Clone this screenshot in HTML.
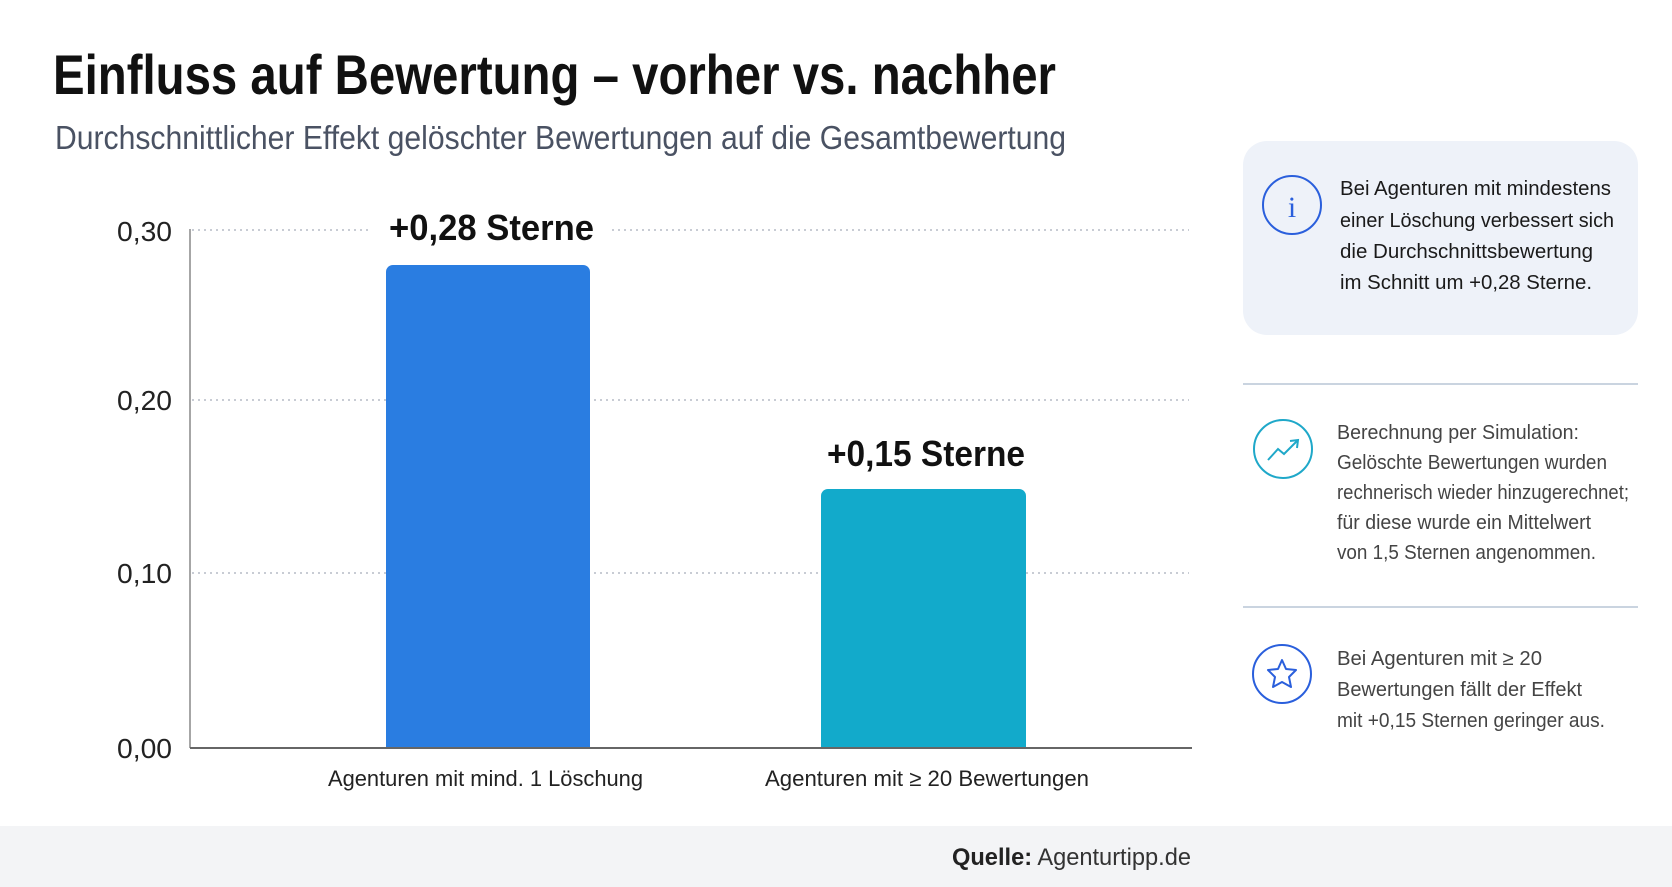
<!DOCTYPE html>
<html><head><meta charset="utf-8"><style>
html,body{margin:0;padding:0;background:#fff;}
svg{display:block;font-family:"Liberation Sans",sans-serif;}
</style></head><body>
<svg width="1672" height="887" viewBox="0 0 1672 887" xmlns="http://www.w3.org/2000/svg">
<rect width="1672" height="887" fill="#fff"/>
<text x="53" y="94" font-size="56" font-weight="bold" fill="#111" textLength="1003" lengthAdjust="spacingAndGlyphs">Einfluss auf Bewertung – vorher vs. nachher</text>
<text x="55" y="149" font-size="33" fill="#4a5263" textLength="1011" lengthAdjust="spacingAndGlyphs">Durchschnittlicher Effekt gelöschter Bewertungen auf die Gesamtbewertung</text>
<g stroke="#b5bcc6" stroke-width="1.5" stroke-dasharray="2,4">
<line x1="192" y1="230" x2="1189" y2="230"/>
<line x1="192" y1="400" x2="1189" y2="400"/>
<line x1="192" y1="573" x2="1189" y2="573"/>
</g>
<rect x="370" y="210" width="240" height="40" fill="#fff"/>
<line x1="190" y1="229" x2="190" y2="748" stroke="#888" stroke-width="1.5"/>
<line x1="190" y1="748" x2="1192" y2="748" stroke="#666" stroke-width="2"/>
<g font-size="28" fill="#222">
<text x="117" y="241" textLength="55" lengthAdjust="spacingAndGlyphs">0,30</text>
<text x="117" y="410" textLength="55" lengthAdjust="spacingAndGlyphs">0,20</text>
<text x="117" y="583" textLength="55" lengthAdjust="spacingAndGlyphs">0,10</text>
<text x="117" y="758" textLength="55" lengthAdjust="spacingAndGlyphs">0,00</text>
</g>
<path d="M386 747 V272 a7 7 0 0 1 7 -7 H583 a7 7 0 0 1 7 7 V747 Z" fill="#2a7de1"/>
<path d="M821 747 V496 a7 7 0 0 1 7 -7 H1019 a7 7 0 0 1 7 7 V747 Z" fill="#12aacb"/>
<text x="389" y="240" font-size="36" font-weight="bold" fill="#111" textLength="205" lengthAdjust="spacingAndGlyphs">+0,28 Sterne</text>
<text x="827" y="466" font-size="36" font-weight="bold" fill="#111" textLength="198" lengthAdjust="spacingAndGlyphs">+0,15 Sterne</text>
<text x="328" y="786" font-size="22" fill="#222" textLength="315" lengthAdjust="spacingAndGlyphs">Agenturen mit mind. 1 Löschung</text>
<text x="765" y="786" font-size="22" fill="#222" textLength="324" lengthAdjust="spacingAndGlyphs">Agenturen mit ≥ 20 Bewertungen</text>
<rect x="0" y="826" width="1672" height="61" fill="#f3f4f6"/>
<text x="952" y="865" font-size="24" fill="#333" textLength="239" lengthAdjust="spacingAndGlyphs"><tspan font-weight="bold" fill="#222">Quelle:</tspan> Agenturtipp.de</text>
<rect x="1243" y="141" width="395" height="194" rx="24" fill="#eef2f9"/>
<circle cx="1292" cy="205" r="29" fill="none" stroke="#2a5fdc" stroke-width="2"/>
<text x="1292" y="217" font-size="30" fill="#2a5fdc" text-anchor="middle" font-family="Liberation Serif, serif">i</text>
<g font-size="20" fill="#1a1a1a">
<text x="1340" y="195" textLength="271" lengthAdjust="spacingAndGlyphs">Bei Agenturen mit mindestens</text>
<text x="1340" y="227" textLength="274" lengthAdjust="spacingAndGlyphs">einer Löschung verbessert sich</text>
<text x="1340" y="258" textLength="253" lengthAdjust="spacingAndGlyphs">die Durchschnittsbewertung</text>
<text x="1340" y="289" textLength="252" lengthAdjust="spacingAndGlyphs">im Schnitt um +0,28 Sterne.</text>
</g>
<line x1="1243" y1="384" x2="1638" y2="384" stroke="#b8c6d6" stroke-width="1.5"/>
<circle cx="1283" cy="449" r="29" fill="none" stroke="#1fa8c9" stroke-width="2"/>
<polyline points="1268,460 1278,449 1284,454 1297,441" fill="none" stroke="#1fa8c9" stroke-width="2"/>
<polyline points="1290,441 1298,440 1297,448" fill="none" stroke="#1fa8c9" stroke-width="2"/>
<g font-size="20" fill="#444">
<text x="1337" y="439" textLength="242" lengthAdjust="spacingAndGlyphs">Berechnung per Simulation:</text>
<text x="1337" y="469" textLength="270" lengthAdjust="spacingAndGlyphs">Gelöschte Bewertungen wurden</text>
<text x="1337" y="499" textLength="292" lengthAdjust="spacingAndGlyphs">rechnerisch wieder hinzugerechnet;</text>
<text x="1337" y="529" textLength="254" lengthAdjust="spacingAndGlyphs">für diese wurde ein Mittelwert</text>
<text x="1337" y="559" textLength="259" lengthAdjust="spacingAndGlyphs">von 1,5 Sternen angenommen.</text>
</g>
<line x1="1243" y1="607" x2="1638" y2="607" stroke="#b8c6d6" stroke-width="1.5"/>
<circle cx="1282" cy="674" r="29" fill="none" stroke="#2a5fdc" stroke-width="2"/>
<polygon points="1282,660 1286,669 1296,670 1289,677 1291,687 1282,682 1273,687 1275,677 1268,670 1278,669" fill="none" stroke="#2a5fdc" stroke-width="2" stroke-linejoin="round"/>
<g font-size="20" fill="#444">
<text x="1337" y="665" textLength="205" lengthAdjust="spacingAndGlyphs">Bei Agenturen mit ≥ 20</text>
<text x="1337" y="696" textLength="245" lengthAdjust="spacingAndGlyphs">Bewertungen fällt der Effekt</text>
<text x="1337" y="727" textLength="268" lengthAdjust="spacingAndGlyphs">mit +0,15 Sternen geringer aus.</text>
</g>
</svg>
</body></html>
